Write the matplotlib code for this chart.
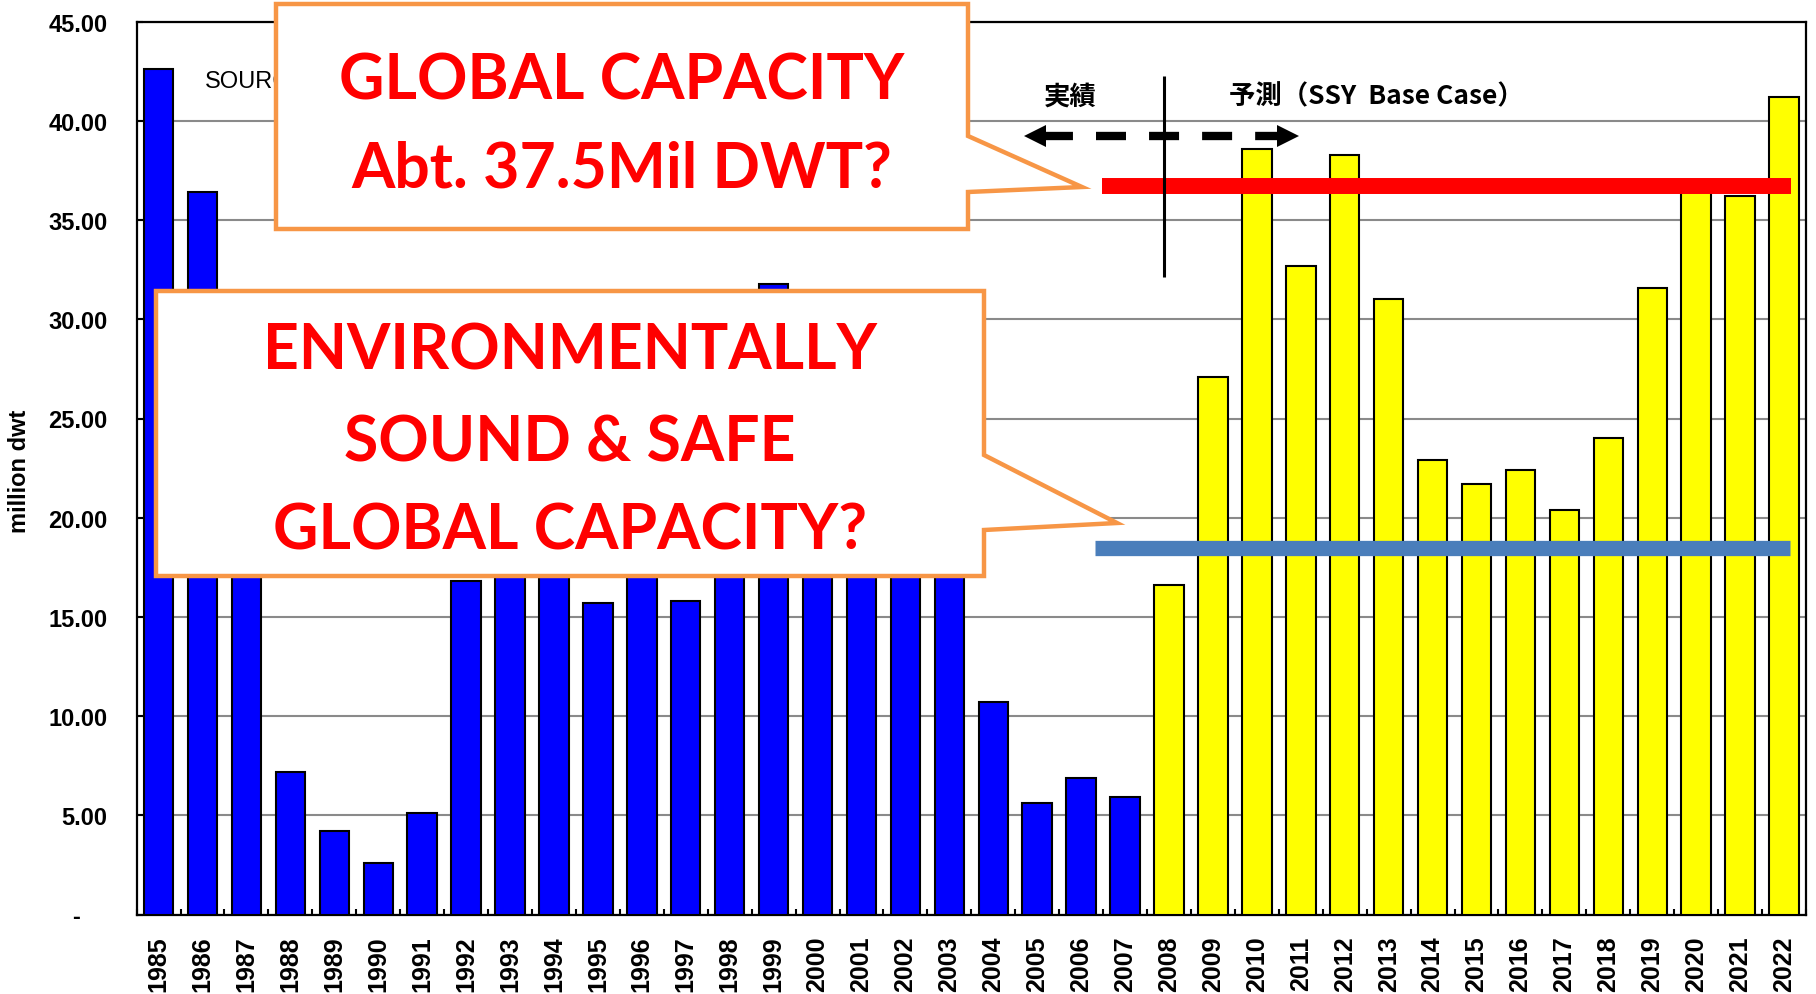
import matplotlib
matplotlib.use("Agg")
import matplotlib.pyplot as plt
from matplotlib.patches import Polygon
import numpy as np

plt.rcParams["lines.scale_dashes"] = False

# ---------------- data ----------------
actual_years = ["1985", "1986", "1987", "1988", "1989", "1990", "1991", "1992",
                "1993", "1994", "1995", "1996", "1997", "1998", "1999", "2000",
                "2001", "2002", "2003", "2004", "2005", "2006", "2007"]
actual_values = [42.6, 36.4, 27.0, 7.2, 4.2, 2.6, 5.1, 16.8,
                 18.5, 21.0, 15.7, 17.5, 15.8, 24.0, 31.8, 22.0,
                 26.5, 28.5, 26.0, 10.7, 5.6, 6.9, 5.9]
forecast_years = ["2008", "2009", "2010", "2011", "2012", "2013", "2014", "2015",
                  "2016", "2017", "2018", "2019", "2020", "2021", "2022"]
forecast_values = [16.6, 27.1, 38.6, 32.7, 38.3, 31.0, 22.9, 21.7,
                   22.4, 20.4, 24.0, 31.6, 36.9, 36.2, 41.2]
y_ticks = [0, 5, 10, 15, 20, 25, 30, 35, 40, 45]
y_tick_labels = ["-    ", "5.00", "10.00", "15.00", "20.00", "25.00",
                 "30.00", "35.00", "40.00", "45.00"]
global_capacity = 36.7      # red reference line
safe_capacity = 18.45       # blue reference line

# ---------------- figure ----------------
W, H = 1816, 995
fig = plt.figure(figsize=(W / 100, H / 100), dpi=100)
L, R, T, B = 136.6, 1806, 22.7, 915.5
ax = fig.add_axes([L / W, 1 - B / H, (R - L) / W, (B - T) / H])


def fpx(x, y):
    return (x / W, 1 - y / H)


n_act = len(actual_years)
x_act = np.arange(n_act)
x_fc = np.arange(n_act, n_act + len(forecast_years))
bw = 0.67
ax.bar(x_act, actual_values, width=bw, color="#0000FF", edgecolor="black",
       linewidth=1.5, zorder=3)
ax.bar(x_fc, forecast_values, width=bw, color="#FFFF00", edgecolor="black",
       linewidth=1.5, zorder=3)

ncat = n_act + len(forecast_years)
ax.set_xlim(-0.5, ncat - 0.5)
ax.set_ylim(0, 45)

ax.set_xticks(np.arange(ncat))
ax.set_xticklabels(actual_years + forecast_years, rotation=90,
                   fontsize=18, fontweight="bold", family="Liberation Sans")
ax.set_xticks(np.arange(-0.5, ncat, 1.0), minor=True)
ax.tick_params(axis="x", which="major", length=0, pad=15)
ax.tick_params(axis="x", which="minor", direction="in", length=4.5, width=1.5)

ax.set_yticks(y_ticks)
ax.set_yticklabels(y_tick_labels, fontsize=17, fontweight="bold",
                   family="Liberation Sans")
ax.tick_params(axis="y", direction="in", length=4.5, width=1.5, pad=21)

ax.grid(axis="y", color="#8a8a8a", linewidth=1.5, zorder=0)
ax.set_axisbelow(True)
for s in ax.spines.values():
    s.set_linewidth(1.6)
    s.set_color("black")

fig.text(20 / W, 1 - 471 / H, "million dwt", rotation=90, ha="center",
         va="center", fontsize=17, fontweight="bold", family="Liberation Sans")

# source note (mostly hidden behind the callout)
ax.text(1.05, 42.0, "SOURCE:", fontsize=17, family="Liberation Sans",
        va="center", ha="left", zorder=2)

# reference lines
ax.hlines(global_capacity, 21.48, 37.16, color="#FF0000", linewidth=11.5,
          zorder=4, capstyle="butt")
ax.hlines(safe_capacity, 21.32, 37.13, color="#4A7EBB", linewidth=11,
          zorder=4, capstyle="butt")

# actual / forecast divider and arrow
ax.vlines(22.89, 32.13, 42.26, color="black", linewidth=2.2, zorder=5)
arrow_y = 39.24
ax.plot([20.21, 25.46], [arrow_y, arrow_y], color="black", linewidth=6,
        linestyle=(2.2, (21.6, 16.6)), solid_capstyle="butt",
        dash_capstyle="butt", zorder=5)
ax.plot([19.94], [arrow_y], marker="<", markersize=16, color="black",
        markeredgewidth=0, zorder=5)
ax.plot([25.70], [arrow_y], marker=">", markersize=16, color="black",
        markeredgewidth=0, zorder=5)
ax.text(20.75, 41.25, "実績", ha="center", va="center", fontsize=19,
        fontweight="bold", family=["Noto Sans CJK JP", "DejaVu Sans"], zorder=5)
ax.text(24.37, 41.25, "予測（SSY  Base Case）", ha="left", va="center",
        fontsize=19, fontweight="bold",
        family=["Noto Sans CJK JP", "DejaVu Sans"], zorder=5)

# ---------------- callouts ----------------
orange = "#F79646"
box1 = [(276, 5), (968, 5), (968, 137), (1082, 188), (968, 193), (968, 230),
        (276, 230)]
box2 = [(156, 292), (984, 292), (984, 456), (1117, 524), (984, 531),
        (984, 577), (156, 577)]
for pts in (box1, box2):
    poly = Polygon([fpx(x, y) for x, y in pts], closed=True,
                   transform=fig.transFigure, facecolor="white",
                   edgecolor=orange, linewidth=3.2, joinstyle="miter",
                   zorder=10)
    fig.add_artist(poly)

txt_kw = dict(ha="center", va="baseline", color="#FF0000", fontsize=45,
              fontweight="bold", family="Lato", zorder=11)
fig.text(*fpx(622, 99), "GLOBAL CAPACITY", **txt_kw)
fig.text(*fpx(622, 187), "Abt. 37.5Mil DWT?", **txt_kw)
fig.text(*fpx(570, 370), "ENVIRONMENTALLY", **txt_kw)
fig.text(*fpx(570, 461), "SOUND & SAFE", **txt_kw)
fig.text(*fpx(570, 550), "GLOBAL CAPACITY?", **txt_kw)

fig.savefig("out.png", dpi=100)
